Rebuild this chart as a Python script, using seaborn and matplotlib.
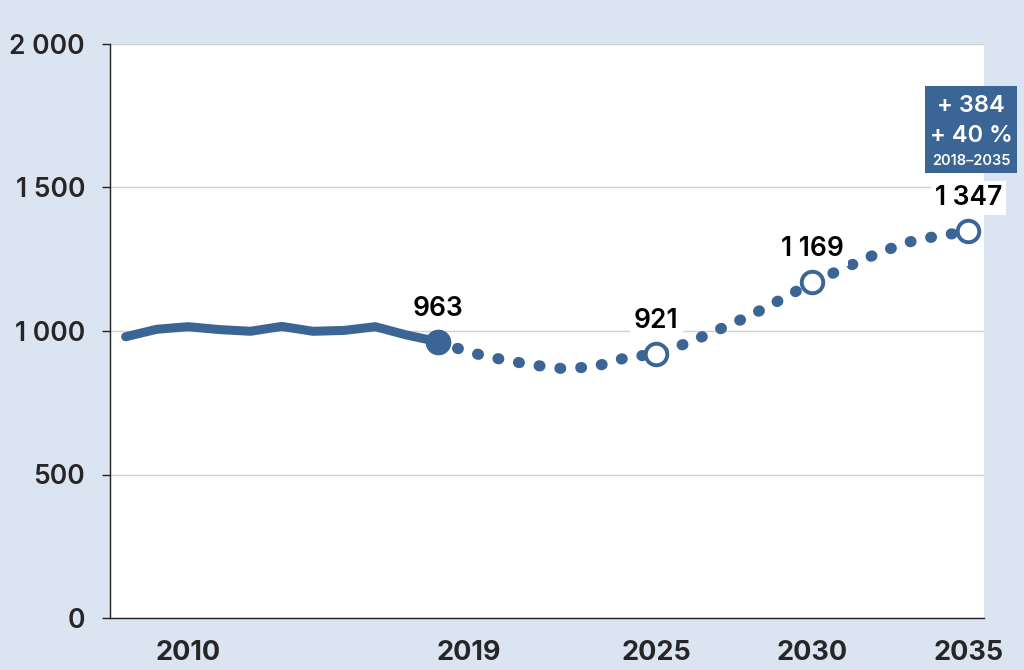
import matplotlib
matplotlib.use("Agg")
import matplotlib.pyplot as plt
import seaborn as sns
import pandas as pd
from matplotlib.patches import Rectangle

# ---- data ----
hist_years = [2008, 2009, 2010, 2011, 2012, 2013, 2014, 2015, 2016, 2017, 2018]
hist_values = [980, 1006, 1015, 1005, 999, 1016, 999, 1002, 1015, 986, 963]

proj_years = [2018, 2019, 2020, 2021, 2022, 2023, 2024, 2025, 2026, 2027,
              2028, 2029, 2030, 2031, 2032, 2033, 2034, 2035]
proj_values = [963, 926, 902, 882, 869, 875, 906, 921, 958, 1005,
               1053, 1110, 1169, 1218, 1266, 1308, 1331, 1347]

label_years = [2018, 2025, 2030, 2035]
label_values = [963, 921, 1169, 1347]
label_texts = ["963", "921", "1 169", "1 347"]

xtick_years = [2010, 2019, 2025, 2030, 2035]
ytick_values = [0, 500, 1000, 1500, 2000]
ytick_labels = ["0", "500", "1 000", "1 500", "2 000"]

box_lines = ["+ 384", "+ 40 %", "2018\u20132035"]

# ---- style ----
sns.set_style("white")
plt.rcParams["font.family"] = ["Inter", "DejaVu Sans"]
TXT_W = "semibold"

LINE = "#3a6595"
BG = "#dbe5f1"
W, H = 1024, 670

fig = plt.figure(figsize=(W / 100, H / 100), dpi=100, facecolor=BG)
ax = fig.add_axes([110 / W, 1 - 618 / H, (984 - 110) / W, (618 - 44) / H])
ax.set_facecolor("white")

hist_df = pd.DataFrame({"year": hist_years, "value": hist_values})
proj_df = pd.DataFrame({"year": proj_years, "value": proj_values})

sns.lineplot(data=hist_df, x="year", y="value", ax=ax, color=LINE,
             linewidth=6.5, solid_capstyle="round", solid_joinstyle="round",
             zorder=3)
sns.lineplot(data=proj_df, x="year", y="value", ax=ax, color=LINE,
             linewidth=8.0, linestyle=(0, (0.08, 1.8)), dash_capstyle="round",
             zorder=3)

# markers
ax.plot([label_years[0]], [label_values[0]], "o", color=LINE, ms=17.5, zorder=5)
ax.plot(label_years[1:], label_values[1:], "o", ls="none", mfc="white",
        mec=LINE, mew=2.8, ms=15.5, zorder=5)

# data labels
for yr, v, t in zip(label_years, label_values, label_texts):
    ax.annotate(t, (yr, v), xytext=(0, 33), textcoords="offset pixels",
                ha="center", va="center", fontsize=19, fontweight=TXT_W,
                color="black",
                bbox=dict(boxstyle="square,pad=0.15", fc="white", ec="none"),
                zorder=6, annotation_clip=False)

# axes
ax.set_xlim(2007.5, 2035.5)
ax.set_ylim(0, 2000)
ax.set_yticks(ytick_values)
ax.set_yticklabels(ytick_labels, fontsize=19, fontweight=TXT_W)
ax.set_xticks(xtick_years)
ax.set_xticklabels([str(y) for y in xtick_years], fontsize=19.5, fontweight="bold")
ax.set_xticks([y + 0.5 for y in range(2007, 2036)], minor=True)
ax.tick_params(axis="x", which="major", length=0, pad=16)
ax.tick_params(axis="x", which="minor", length=6, width=1, color="#222222",
               direction="out")
ax.tick_params(axis="y", length=6, width=1, color="#222222", pad=12,
               direction="out", left=True)
ax.set_xlabel("")
ax.set_ylabel("")
ax.grid(axis="y", color="#d0d0d0", lw=1)
ax.set_axisbelow(True)
for s in ["top", "right"]:
    ax.spines[s].set_visible(False)
for s in ["left", "bottom"]:
    ax.spines[s].set_color("#222222")
    ax.spines[s].set_linewidth(1)

# summary box
x0, x1, y0, y1 = 925, 1017, 86, 173
fig.patches.append(Rectangle((x0 / W, 1 - y1 / H), (x1 - x0) / W, (y1 - y0) / H,
                             transform=fig.transFigure, fc=LINE, ec="none",
                             zorder=10))
cx = (x0 + x1) / 2 / W
fig.text(cx, 1 - 106 / H, box_lines[0], ha="center", va="center",
         color="white", fontsize=17, fontweight=TXT_W, zorder=11)
fig.text(cx, 1 - 136 / H, box_lines[1], ha="center", va="center",
         color="white", fontsize=17, fontweight=TXT_W, zorder=11)
fig.text(cx, 1 - 161 / H, box_lines[2], ha="center", va="center",
         color="white", fontsize=10.5, fontweight=TXT_W, zorder=11)

fig.savefig("out.png", dpi=100, facecolor=BG)
